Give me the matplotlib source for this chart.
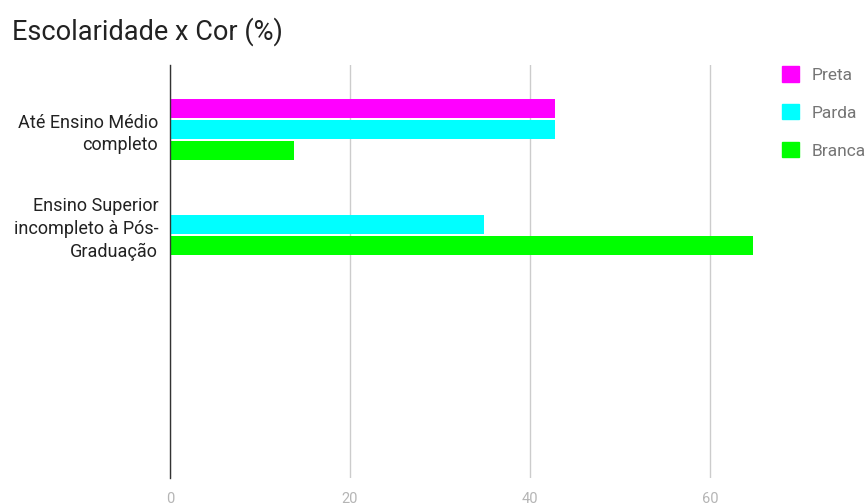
import matplotlib
matplotlib.use("Agg")
import matplotlib.pyplot as plt
import numpy as np
from matplotlib.patches import Patch

categories = ["Até Ensino Médio\ncompleto", "Ensino Superior\nincompleto à Pós-\nGraduação"]
series_names = ["Preta", "Parda", "Branca"]
preta = [42.8, 0.0]
parda = [42.8, 34.9]
branca = [13.8, 64.8]
xticks = [0, 20, 40, 60]
colors = ["#ff00ff", "#00ffff", "#00ff00"]

plt.rcParams['font.family'] = ['Roboto', 'DejaVu Sans']

W, H = 866, 504
fig = plt.figure(figsize=(W/100, H/100), dpi=100)
left, right, top, bottom = 170, 770, 65, 478
ax = fig.add_axes([left/W, 1-bottom/H, (right-left)/W, (bottom-top)/H])

pitch = 95.0
bh = 19/pitch
off = 21/pitch
y = np.arange(len(categories))
for i, (vals, c) in enumerate(zip([preta, parda, branca], colors)):
    ax.barh(y + (i-1)*off, vals, height=bh, color=c, label=series_names[i], zorder=3)

ax.set_xlim(0, (right-left)/9.0)
ax.set_ylim((bottom-129.5)/pitch, -(129.5-top)/pitch)
ax.set_xticks(xticks)
ax.set_xticklabels([str(t) for t in xticks], color="#b5b5b5", fontsize=10.5)
ax.set_yticks(y)
ax.set_yticklabels(categories, fontsize=13, color="#222222", linespacing=1.33, ha="right")
ax.tick_params(axis="both", length=0)
ax.tick_params(axis="x", pad=10)
ax.tick_params(axis="y", pad=8.5)
ax.grid(axis="x", color="#cccccc", linewidth=1, zorder=0)
for s in ["top", "right", "bottom"]:
    ax.spines[s].set_visible(False)
ax.spines["left"].set_color("#333333")
ax.spines["left"].set_linewidth(1)
ax.spines["left"].set_zorder(4)

fig.text(12/W, 1-32/H, "Escolaridade x Cor (%)", fontsize=19.5, color="#222222", va="center", ha="left")

handles = [Patch(facecolor=c, edgecolor=c, label=n) for c, n in zip(colors, series_names)]
leg = fig.legend(handles=handles, loc="upper left", bbox_to_anchor=(782/W, 1-66/H),
                 frameon=False, fontsize=12.5, handlelength=1.0, handleheight=1.0,
                 handletextpad=0.7, labelspacing=1.22, borderaxespad=0, borderpad=0)
for t in leg.get_texts():
    t.set_color("#757575")

fig.savefig("out.png", dpi=100)
